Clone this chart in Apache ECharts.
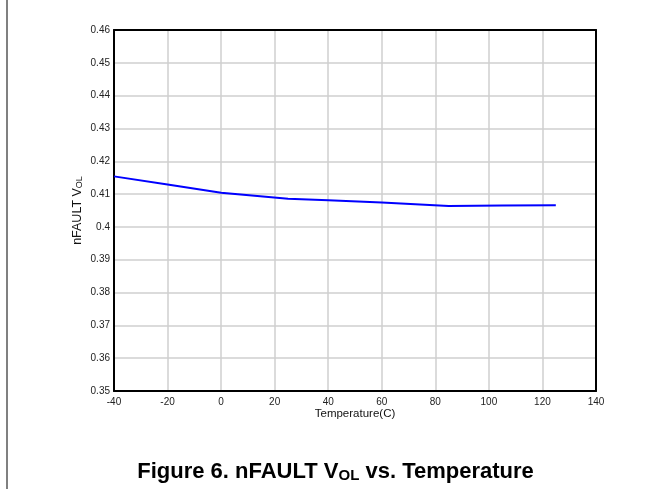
<!DOCTYPE html>
<html>
<head>
<meta charset="utf-8">
<script src="https://cdn.jsdelivr.net/npm/echarts@6/dist/echarts.min.js"></script>
<style>
  html, body { margin: 0; padding: 0; background: #fff; }
  #chart { width: 671px; height: 489px; }
  .edge { position: absolute; left: 6px; top: 0; width: 2px; height: 489px; background: #808080; }
</style>
</head>
<body>
<div class="edge"></div>
<div id="chart"></div>
<script>
// temperature (C) and nFAULT VOL (V)
var temps = [-40, -20, 0, 25, 40, 60, 85, 105, 125];
var vol = [0.4154, 0.4129, 0.4104, 0.4086, 0.4081, 0.4074, 0.4064, 0.4065, 0.4066];

var chart = echarts.init(document.getElementById('chart'));

var option = {
  animation: false,
  title: {
    text: '{b|Figure 6. nFAULT V}{s|OL}{b| vs. Temperature}',
    left: 'center',
    top: 452,
    textStyle: {
      rich: {
        b: { fontFamily: 'Liberation Sans', fontWeight: 'bold', fontSize: 22, color: '#000', lineHeight: 26, verticalAlign: 'bottom' },
        s: { fontFamily: 'Liberation Sans', fontWeight: 'bold', fontSize: 15, color: '#000', lineHeight: 21, verticalAlign: 'bottom' }
      }
    }
  },
  grid: { left: 114, top: 30, width: 482, height: 361 },
  xAxis: [{
    type: 'value',
    min: -40, max: 140, interval: 20,
    name: 'Temperature(C)',
    nameLocation: 'middle',
    nameGap: 17,
    nameMoveOverlap: false,
    nameTextStyle: { fontFamily: 'Liberation Sans', fontSize: 11.5, color: '#111' },
    axisLine: { show: true, onZero: false, lineStyle: { color: '#000', width: 2 } },
    axisTick: { show: false },
    axisLabel: { fontFamily: 'Liberation Sans', fontSize: 10, color: '#222', margin: 6 },
    splitLine: { show: true, showMinLine: false, showMaxLine: false, lineStyle: { color: '#cfcfcf', width: 1.5 } }
  }, {
    type: 'value', position: 'top',
    min: -40, max: 140,
    axisLine: { show: true, onZero: false, lineStyle: { color: '#000', width: 2 } },
    axisTick: { show: false }, axisLabel: { show: false }, splitLine: { show: false }
  }],
  yAxis: [{
    type: 'value',
    min: 0.35, max: 0.46, interval: 0.01,
    name: '{a|nFAULT V}{s|OL}',
    nameLocation: 'middle',
    nameRotate: 90,
    nameGap: 30,
    nameMoveOverlap: false,
    nameTextStyle: {
      rich: {
        a: { fontFamily: 'Liberation Sans', fontSize: 12.5, color: '#111', lineHeight: 15, verticalAlign: 'bottom' },
        s: { fontFamily: 'Liberation Sans', fontSize: 9, color: '#111', lineHeight: 11, verticalAlign: 'bottom' }
      }
    },
    axisLine: { show: true, onZero: false, lineStyle: { color: '#000', width: 2 } },
    axisTick: { show: false },
    axisLabel: {
      fontFamily: 'Liberation Sans', fontSize: 10, color: '#222', margin: 4,
      formatter: function (v) { return String(parseFloat(v.toFixed(2))); }
    },
    splitLine: { show: true, showMinLine: false, showMaxLine: false, lineStyle: { color: '#cfcfcf', width: 1.5 } }
  }, {
    type: 'value', position: 'right',
    min: 0.35, max: 0.46,
    axisLine: { show: true, onZero: false, lineStyle: { color: '#000', width: 2 } },
    axisTick: { show: false }, axisLabel: { show: false }, splitLine: { show: false }
  }],
  series: [{
    type: 'line',
    xAxisIndex: 0,
    yAxisIndex: 0,
    data: temps.map(function (t, i) { return [t, vol[i]]; }),
    showSymbol: false,
    smooth: false,
    lineStyle: { color: '#0000ff', width: 2 }
  }]
};

chart.setOption(option);
</script>
</body>
</html>
